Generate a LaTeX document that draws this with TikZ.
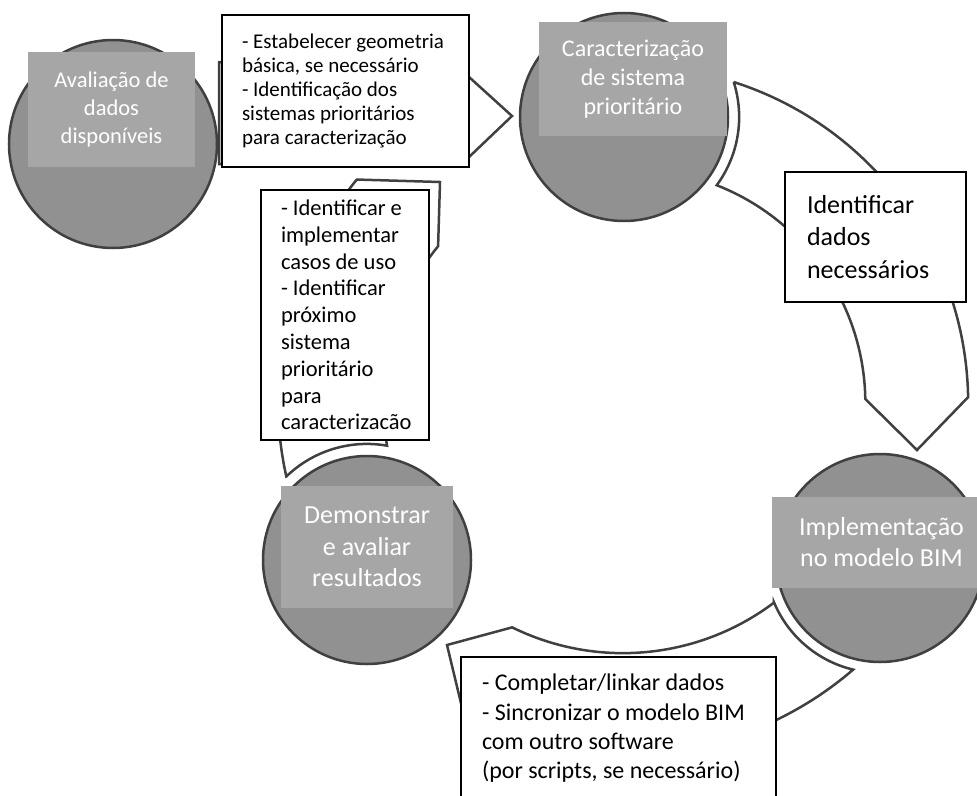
\documentclass[tikz,border=0pt]{standalone}
\usepackage{fontspec}
\setmainfont{Carlito}
\hyphenpenalty=10000
\exhyphenpenalty=10000
\definecolor{circlegray}{RGB}{145,145,145}
\definecolor{labelgray}{RGB}{166,166,166}
\definecolor{outlinegray}{RGB}{64,64,64}
\tikzset{
	cyclearrow/.style={fill=white, draw=outlinegray, line width=2.5pt, line join=miter},
	stagecircle/.style={circle, minimum size=208pt, inner sep=0pt, fill=circlegray, draw=outlinegray, line width=2.5pt},
	stagelabel/.style={fill=labelgray, text=white, align=center, inner sep=0pt},
	notebox/.style={draw=black, line width=1.4pt, fill=white, align=flush left, inner xsep=21pt, inner ysep=0pt}
}
\begin{document}
\begin{tikzpicture}[x=1pt, y=-1pt]
		\useasboundingbox (0,0) rectangle (977,795);
		% block arrows of the cycle
		\draw[cyclearrow] (219,62) -- (452.5,62) -- (512,116) -- (461.7,164) -- (219,164) -- cycle;
		\draw[cyclearrow] (733.6,82.0) arc[start angle=-72.3, end angle=-1, radius=337] -- (917,450) -- (865.3,399.0) arc[start angle=-1, end angle=-68.6, radius=234] arc[start angle=36.4, end angle=-17.7, radius=115] -- cycle;
		\draw[cyclearrow] (774.0,602.6) arc[start angle=53, end angle=116.2, radius=251] -- (447,645) -- (466,724) -- (479.4,724.5) arc[start angle=114, end angle=49.3, radius=353] arc[start angle=103.5, end angle=157.2, radius=115] -- cycle;
		\draw[cyclearrow] (286.3,476.5) arc[start angle=167.5, end angle=219.2, radius=350] -- (440,182) -- (438.1,246.2) arc[start angle=219.2, end angle=169.5, radius=245] arc[start angle=280, end angle=226, radius=116] -- cycle;
		% stages
		\node[stagecircle] (evalc) at (113,144) {};
		\node[stagecircle] (charc) at (624,117) {};
		\node[stagecircle] (implc) at (880,558) {};
		\node[stagecircle] (democ) at (367,560) {};
		\node[stagelabel, minimum width=167pt, minimum height=115pt, font=\fontsize{22.5pt}{28.5pt}\selectfont] (evall) at (111.5,109.5) {Avaliação de\\dados\\disponíveis};
		\node[stagelabel, minimum width=188pt, minimum height=114pt, font=\fontsize{24pt}{29pt}\selectfont] (charl) at (633,79) {Caracterização\\de sistema\\prioritário};
		\node[stagelabel, minimum width=219pt, minimum height=91pt, font=\fontsize{26pt}{31pt}\selectfont] (impll) at (881.5,542.5) {Implementação\\no modelo BIM};
		\node[stagelabel, minimum width=172pt, minimum height=122pt, font=\fontsize{26pt}{31.5pt}\selectfont] (deml) at (367,547) {Demonstrar\\e avaliar\\resultados};
		% notes
		\node[notebox, minimum height=152pt, text width=207pt, inner xsep=20pt, font=\fontsize{21pt}{24pt}\selectfont] (prepn) at (345.5,91) {- Estabelecer geometria\\básica, se necessário\\- Identificação dos\\sistemas prioritários\\para caracterização};
		\node[notebox, minimum height=130pt, text width=137pt, inner xsep=22pt, font=\fontsize{26pt}{32.5pt}\selectfont] (datan) at (875.5,237) {Identificar\\dados\\necessários};
		\node[notebox, minimum height=143pt, text width=273pt, font=\fontsize{24pt}{29.3pt}\selectfont] (syncn) at (618.5,728.5) {- Completar/linkar dados\\- Sincronizar o modelo BIM\\com outro software\\(por scripts, se necessário)};
		\node[notebox, minimum height=250pt, text width=128pt, inner xsep=20pt, font=\fontsize{22.5pt}{26.8pt}\selectfont] (usen) at (345,315) {- Identificar e\\implementar\\casos de uso\\- Identificar\\próximo\\sistema\\prioritário\\para\\caracterizacão};
	\end{tikzpicture}
\end{document}
